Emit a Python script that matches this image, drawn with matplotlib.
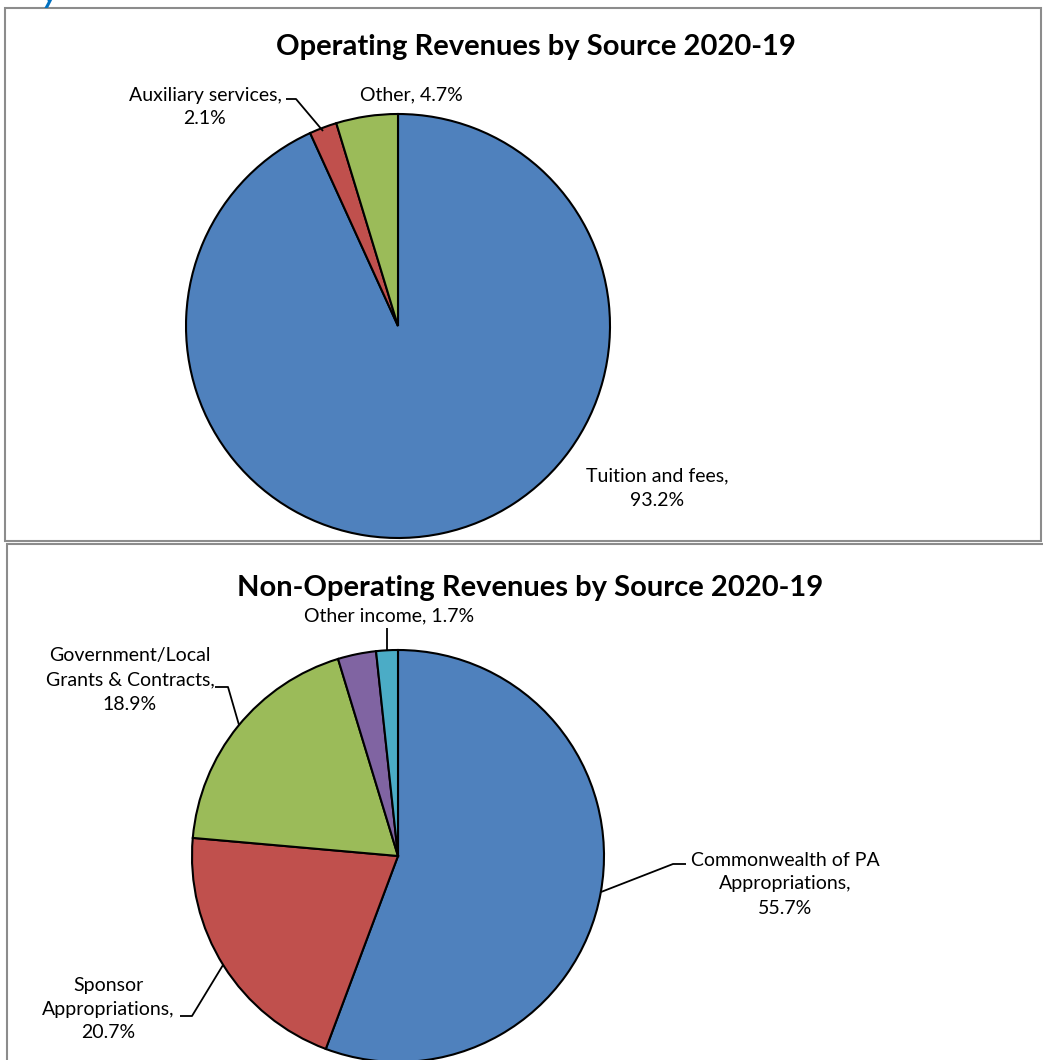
import matplotlib
matplotlib.use("Agg")
import matplotlib.pyplot as plt
from matplotlib.patches import Rectangle

# ---- data ----
op_categories = ["Tuition and fees", "Auxiliary services", "Other"]
op_values = [93.2, 2.1, 4.7]
op_labels = ["Tuition and fees,\n93.2%", "Auxiliary services,\n2.1%", "Other, 4.7%"]

nonop_categories = ["Commonwealth of PA Appropriations", "Sponsor Appropriations",
                    "Government/Local Grants & Contracts", "Investment income", "Other income"]
nonop_values = [55.7, 20.7, 18.9, 3.0, 1.7]
nonop_labels = ["Commonwealth of PA\nAppropriations,\n55.7%", "Sponsor\nAppropriations,\n20.7%",
                "Government/Local\nGrants & Contracts,\n18.9%", None, "Other income, 1.7%"]

title_top = "Operating Revenues by Source 2020-19"
title_bottom = "Non-Operating Revenues by Source 2020-19"

op_colors = ["#4F81BD", "#C0504D", "#9BBB59"]
nonop_colors = ["#4F81BD", "#C0504D", "#9BBB59", "#8064A2", "#4BACC6"]

W, H = 1043, 1060
fig = plt.figure(figsize=(W / 100, H / 100), dpi=100)
ax = fig.add_axes([0, 0, 1, 1])
FONT = "Lato"

def Y(py):
    return H - py

# boxes
ax.add_patch(Rectangle((5, Y(541)), 1036, 533, fill=False, edgecolor="#8C8C8C", lw=1.5))
ax.add_patch(Rectangle((7, Y(1062)), 1040, 518, fill=False, edgecolor="#8C8C8C", lw=1.5))

# partial heading fragment at top (cut off in the reference too)
ax.text(42, Y(3), "y", color="#0070C0", fontsize=22, fontweight="bold", family=FONT,
        ha="left", va="baseline", style="italic")

wp = dict(edgecolor="black", linewidth=1.5)
ax.pie(op_values, colors=op_colors, startangle=90, counterclock=False,
       center=(398, Y(326)), radius=212, wedgeprops=wp, frame=True)
ax.pie(nonop_values, colors=nonop_colors, startangle=90, counterclock=False,
       center=(398, Y(856)), radius=206, wedgeprops=wp, frame=True)

tk = dict(family=FONT, fontsize=14, color="black", ha="center", va="center", linespacing=1.5)
ax.text(536, Y(47), title_top, family=FONT, fontsize=21, fontweight="bold", ha="center", va="center")
ax.text(530, Y(588), title_bottom, family=FONT, fontsize=21, fontweight="bold", ha="center", va="center")

ax.text(657, Y(488), op_labels[0], **tk)
ax.text(205, Y(107), op_labels[1], **tk)
ax.text(411, Y(95), op_labels[2], **tk)

ax.text(785, Y(884), nonop_labels[0], **tk)
ax.text(108, Y(1009), nonop_labels[1], **tk)
ax.text(130, Y(680), nonop_labels[2], **tk)
ax.text(389, Y(616), nonop_labels[4], **tk)

# leader lines
def leader(pts):
    xs = [p[0] for p in pts]
    ys = [Y(p[1]) for p in pts]
    ax.plot(xs, ys, color="black", lw=1.3, solid_capstyle="butt")

leader([(286, 99), (296, 99), (323, 131)])
leader([(215, 687), (228, 687), (239, 725)])
leader([(686, 864), (673, 864), (601, 892)])
leader([(180, 1016), (192, 1016), (223, 965)])
leader([(387, 628), (387, 651)])

ax.set_xlim(0, W)
ax.set_ylim(0, H)
ax.set_aspect("auto")
ax.set_axis_off()
fig.savefig("out.png", dpi=100)
